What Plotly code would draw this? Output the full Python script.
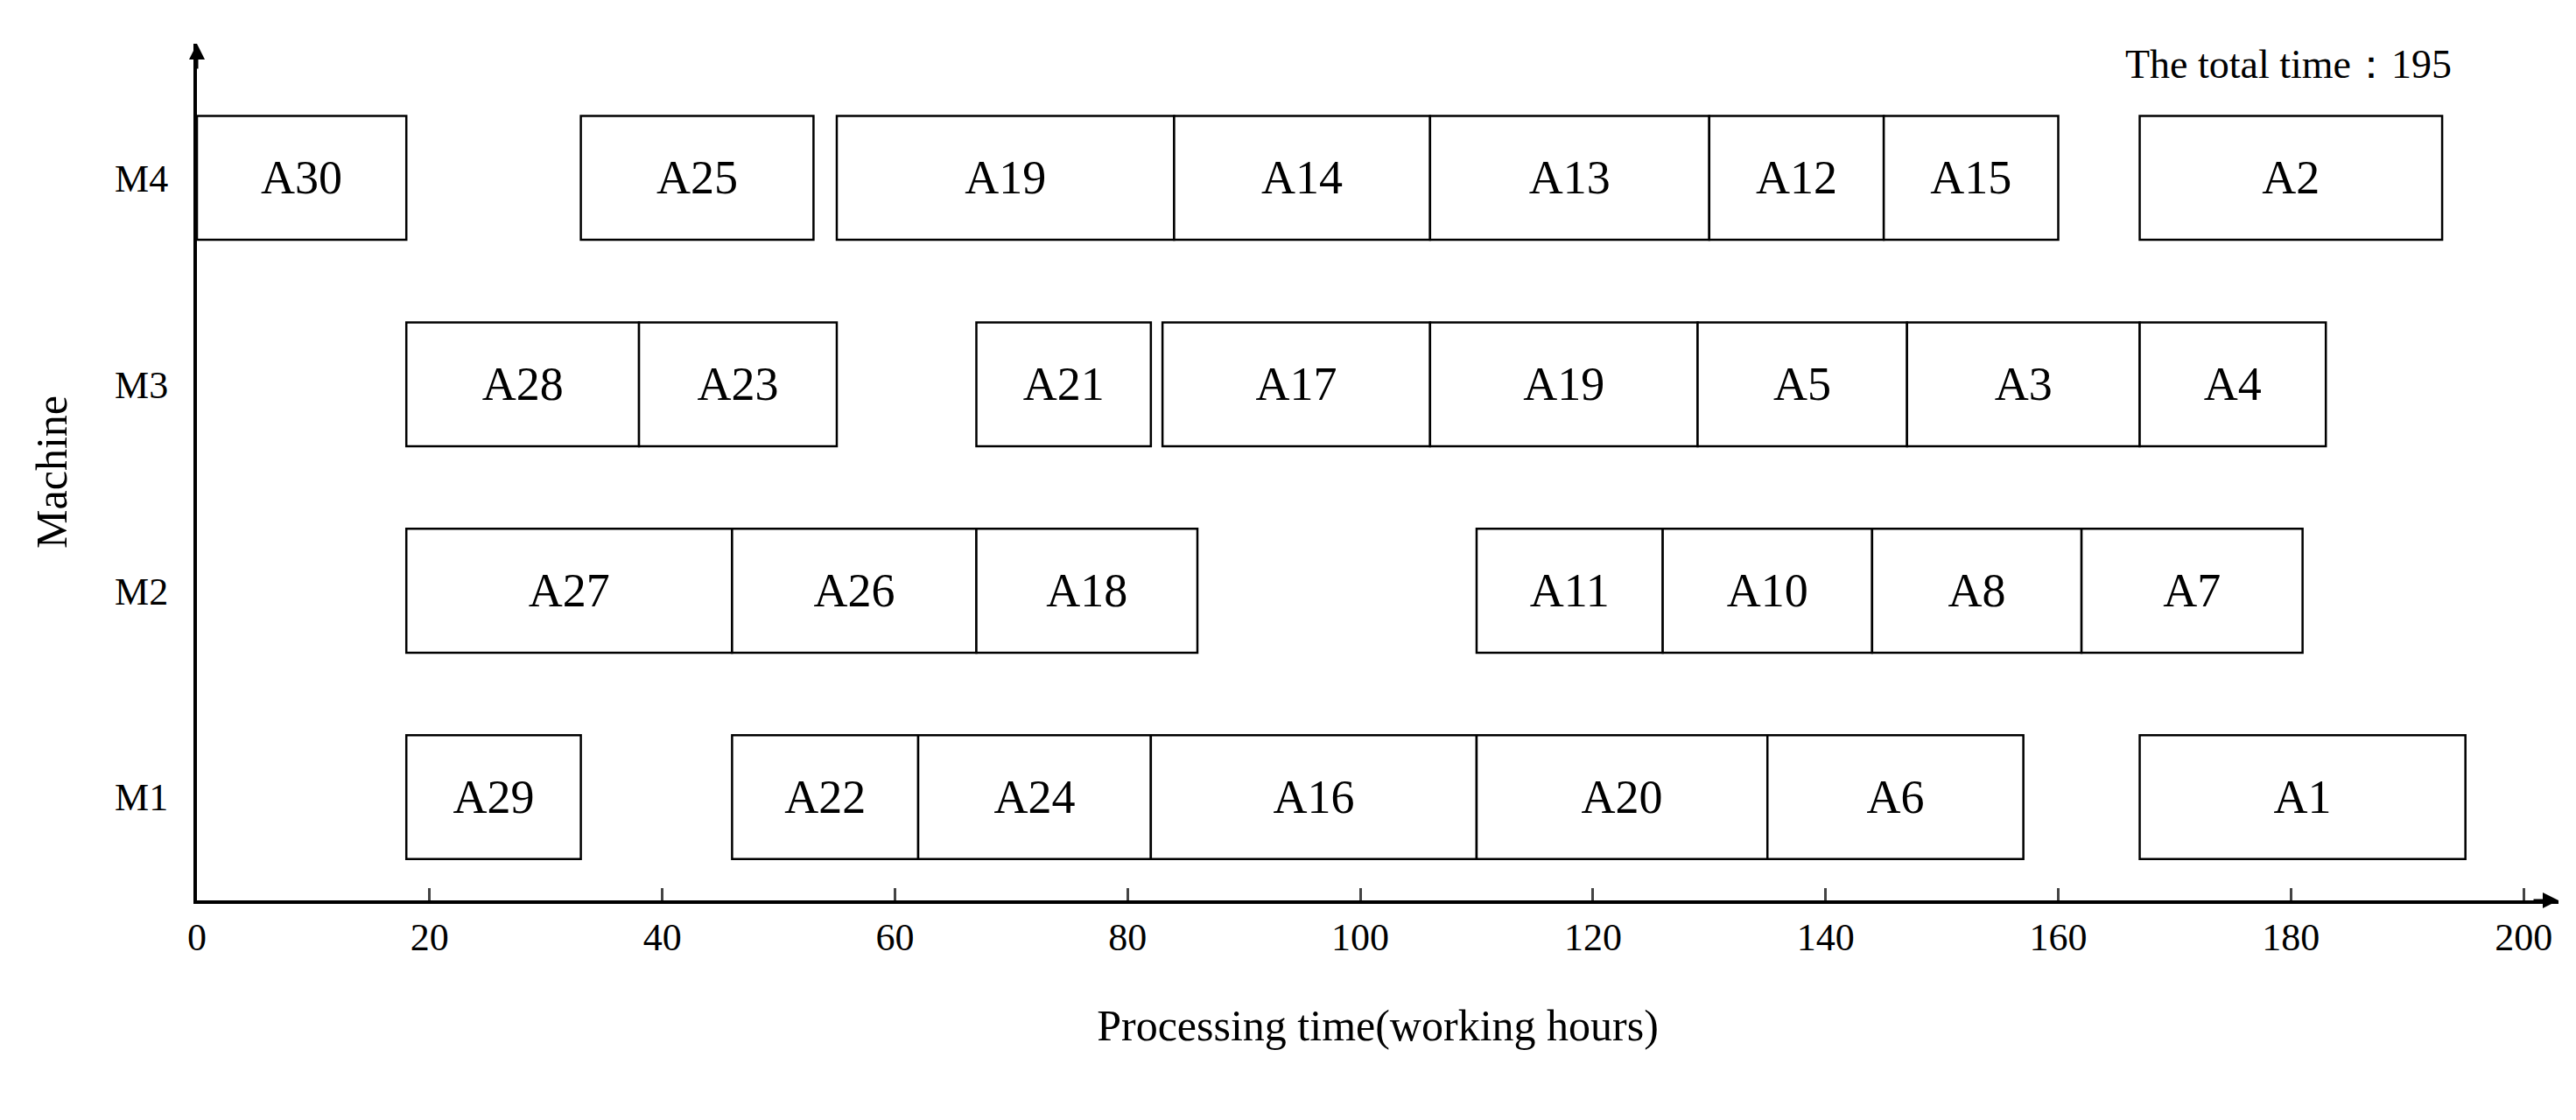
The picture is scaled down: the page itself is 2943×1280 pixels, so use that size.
import plotly.graph_objects as go

machines = ["M1", "M2", "M3", "M4"]
jobs = {
    "M4": [("A30", 0, 18), ("A25", 33, 53), ("A19", 55, 84), ("A14", 84, 106), ("A13", 106, 130),
           ("A12", 130, 145), ("A15", 145, 160), ("A2", 167, 193)],
    "M3": [("A28", 18, 38), ("A23", 38, 55), ("A21", 67, 82), ("A17", 83, 106), ("A19", 106, 129),
           ("A5", 129, 147), ("A3", 147, 167), ("A4", 167, 183)],
    "M2": [("A27", 18, 46), ("A26", 46, 67), ("A18", 67, 86), ("A11", 110, 126), ("A10", 126, 144),
           ("A8", 144, 162), ("A7", 162, 181)],
    "M1": [("A29", 18, 33), ("A22", 46, 62), ("A24", 62, 82), ("A16", 82, 110), ("A20", 110, 135),
           ("A6", 135, 157), ("A1", 167, 195)],
}
total_time = 195
x_ticks = [0, 20, 40, 60, 80, 100, 120, 140, 160, 180, 200]

FONT = "Liberation Serif, Times New Roman, serif"
fig = go.Figure()
for m in machines:
    rows = jobs[m]
    fig.add_trace(go.Bar(
        orientation="h",
        y=[machines.index(m) + 1] * len(rows),
        x=[e - s for _, s, e in rows],
        base=[s for _, s, _ in rows],
        text=[n for n, _, _ in rows],
        textposition="inside", insidetextanchor="middle", textangle=0,
        textfont=dict(family=FONT, size=54, color="black"),
        marker=dict(color="white", line=dict(color="black", width=2.5)),
        width=0.6, showlegend=False, hoverinfo="skip",
    ))

fig.update_layout(
    width=2943, height=1280, plot_bgcolor="white", paper_bgcolor="white",
    barmode="overlay",
    margin=dict(l=217, r=28, t=42, b=259),
    font=dict(family=FONT, size=44, color="black"),
    uniformtext=dict(mode="show", minsize=10),
    xaxis=dict(range=[0, 203], tickvals=x_ticks, ticks="inside", ticklen=14, tickwidth=3,
               showline=True, linewidth=4, linecolor="black", showgrid=False, zeroline=False,
               title=dict(text="Processing time(working hours)", font=dict(size=50), standoff=60)),
    yaxis=dict(range=[0.5, 4.65], tickvals=[1, 2, 3, 4], ticktext=machines, ticks="",
               showline=True, linewidth=4, linecolor="black", showgrid=False, zeroline=False,
               ticklabelstandoff=20,
               title=dict(text="Machine", font=dict(size=50), standoff=40)),
)
fig.add_annotation(x=1.0, y=0, xref="paper", yref="paper", ax=-30, ay=0, text="",
                   showarrow=True, arrowhead=2, arrowsize=1.2, arrowwidth=3, arrowcolor="black")
fig.add_annotation(x=0, y=1.0, xref="paper", yref="paper", ax=0, ay=30, text="",
                   showarrow=True, arrowhead=2, arrowsize=1.2, arrowwidth=3, arrowcolor="black")
fig.add_annotation(x=194, y=4.55, xref="x", yref="y", text=f"The total time：{total_time}",
                   showarrow=False, xanchor="right", font=dict(size=46))
fig.write_html("out.html")
